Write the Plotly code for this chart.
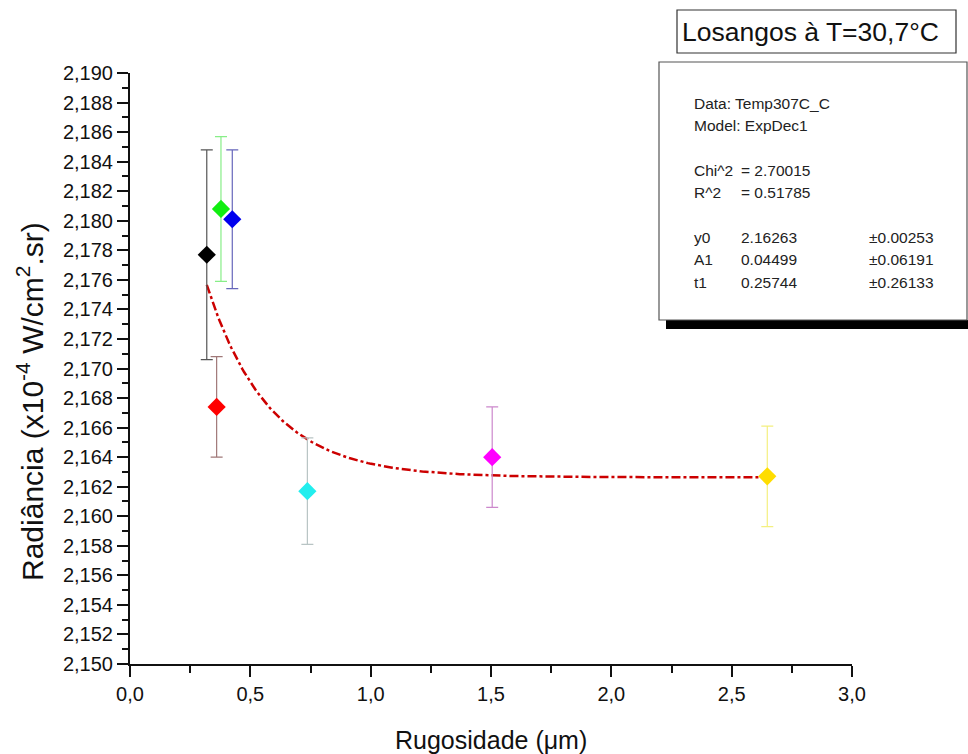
import numpy as np
import plotly.graph_objects as go

# Measured points: roughness (µm) vs radiance (x10^-4 W/cm^2.sr)
rugosidade = [0.319, 0.360, 0.378, 0.425, 0.737, 1.505, 2.648]
radiancia = [2.1777, 2.1674, 2.1808, 2.1801, 2.1617, 2.1640, 2.1627]
erro = [0.0071, 0.0034, 0.0049, 0.0047, 0.0036, 0.0034, 0.0034]
cor_marcador = ["#000000", "#ff0000", "#11ee11", "#0000ee", "#22eeee", "#ff00ff", "#ffdd00"]
cor_erro = ["#555555", "#a07878", "#88ee88", "#6666bb", "#b8c4c4", "#cc88cc", "#f4f080"]

# ExpDec1 fit parameters: y = A1*exp(-x/t1) + y0
fit_y0 = 2.16263
fit_A1 = 0.04499
fit_t1 = 0.25744

stats_linhas = [
    ["Data: Temp307C_C", "", ""],
    ["Model: ExpDec1", "", ""],
    None,
    ["Chi^2", "= 2.70015", ""],
    ["R^2", "= 0.51785", ""],
    None,
    ["y0", "2.16263", "±0.00253"],
    ["A1", "0.04499", "±0.06191"],
    ["t1", "0.25744", "±0.26133"],
]

W, H = 968, 754
L, R, T, B = 130, 116, 73, 90
FONT = "Liberation Sans, Arial, sans-serif"


def px_x(p):
    return (p - L) / (W - L - R)


def px_y(p):
    return (H - B - p) / (H - T - B)


fig = go.Figure()

x_fit = np.linspace(min(rugosidade), max(rugosidade), 300)
y_fit = fit_A1 * np.exp(-x_fit / fit_t1) + fit_y0
fig.add_trace(go.Scatter(
    x=x_fit, y=y_fit, mode="lines",
    line=dict(color="#cc0000", width=2.5, dash="dashdot"),
    hoverinfo="skip", showlegend=False,
))

for xi, yi, ei, cm, ce in zip(rugosidade, radiancia, erro, cor_marcador, cor_erro):
    fig.add_trace(go.Scatter(
        x=[xi], y=[yi], mode="markers",
        marker=dict(symbol="diamond", size=14, color=cm, line=dict(width=0)),
        error_y=dict(type="data", array=[ei], visible=True,
                     color=ce, thickness=1.2, width=6),
        showlegend=False,
    ))

shapes = [
    # title box
    dict(type="rect", xref="paper", yref="paper",
         x0=px_x(677), x1=px_x(956), y0=px_y(53), y1=px_y(10),
         line=dict(color="#333333", width=1.2), fillcolor="white", layer="above"),
    # shadow under stats box
    dict(type="rect", xref="paper", yref="paper",
         x0=px_x(666), x1=px_x(980), y0=px_y(329), y1=px_y(320),
         line=dict(width=0), fillcolor="black", layer="above"),
    # stats box
    dict(type="rect", xref="paper", yref="paper",
         x0=px_x(659), x1=px_x(967), y0=px_y(320), y1=px_y(62),
         line=dict(color="#555555", width=1.2), fillcolor="white", layer="above"),
]

annotations = [
    dict(text="Losangos à T=30,7°C", xref="paper", yref="paper",
         x=px_x(680), y=px_y(32), xanchor="left", yanchor="middle",
         showarrow=False, font=dict(family=FONT, size=26.5, color="#111111")),
    # axis titles
    dict(text="Radiância (x10<sup>-4</sup> W/cm<sup>2</sup>.sr)", xref="paper", yref="paper",
         x=px_x(30), y=px_y(402), xanchor="center", yanchor="middle", textangle=-90,
         showarrow=False, font=dict(family=FONT, size=30, color="#111111")),
    dict(text="Rugosidade (μm)", xref="paper", yref="paper",
         x=px_x(491), y=px_y(740), xanchor="center", yanchor="middle",
         showarrow=False, font=dict(family=FONT, size=25, color="#111111")),
]

linha_y = 103
for linha in stats_linhas:
    if linha is None:
        linha_y += 22
        continue
    for col_x, txt in zip([692, 739, 867], linha):
        if txt:
            annotations.append(dict(
                text=txt, xref="paper", yref="paper",
                x=px_x(col_x), y=px_y(linha_y), xanchor="left", yanchor="middle",
                showarrow=False, font=dict(family=FONT, size=15.5, color="#222222")))
    linha_y += 22.5

fig.update_layout(
    width=W, height=H,
    margin=dict(l=L, r=R, t=T, b=B),
    paper_bgcolor="white", plot_bgcolor="white",
    separators=", ",
    font=dict(family=FONT, color="#111111"),
    shapes=shapes,
    annotations=annotations,
    xaxis=dict(
        range=[0, 3], dtick=0.5, tick0=0, tickformat=".1f",
        showgrid=False, zeroline=False, automargin=False,
        showline=True, linecolor="#111111", linewidth=2,
        ticks="outside", ticklen=11, tickwidth=2, tickcolor="#111111",
        minor=dict(dtick=0.25, ticks="outside", ticklen=7, tickwidth=1.5, tickcolor="#111111"),
        tickfont=dict(family=FONT, size=20),
    ),
    yaxis=dict(
        range=[2.150, 2.190], dtick=0.002, tick0=2.150, tickformat=".3f",
        showgrid=False, zeroline=False, automargin=False,
        showline=True, linecolor="#111111", linewidth=2,
        ticks="outside", ticklen=11, tickwidth=2, tickcolor="#111111",
        minor=dict(dtick=0.001, ticks="outside", ticklen=6, tickwidth=1.5, tickcolor="#111111"),
        tickfont=dict(family=FONT, size=20),
    ),
)

fig.write_html("out.html")
